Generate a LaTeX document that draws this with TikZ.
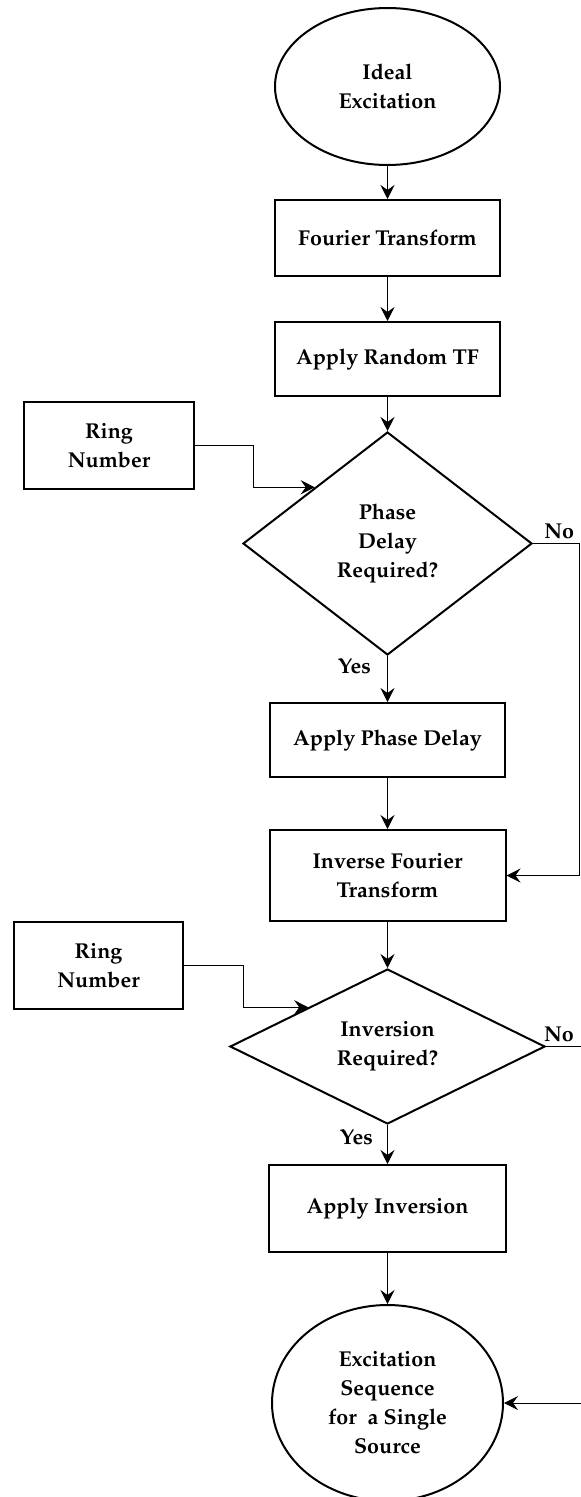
\documentclass[tikz,border=0pt]{standalone}
\usepackage[T1]{fontenc}
\usepackage{mathpazo}
\usetikzlibrary{positioning,shapes.geometric,arrows.meta}

\begin{document}
\begin{tikzpicture}[x=1pt,y=-1pt]
\tikzstyle{txt}=[font=\bfseries\fontsize{21.5}{29}\selectfont,align=center,inner sep=0pt];
\tikzstyle{term}=[txt,ellipse,draw,line width=2pt];
\tikzstyle{proc}=[txt,rectangle,draw,line width=2pt];
\tikzstyle{dec}=[txt,diamond,draw,line width=2pt];
\tikzstyle{arr}=[line width=1pt,-{Stealth[length=14pt,width=14pt,inset=5pt]}];
\tikzstyle{lbl}=[font=\bfseries\fontsize{21.5}{24}\selectfont,inner sep=4pt];

\useasboundingbox (0,0) rectangle (581,1497);

% main column
\node[term,minimum width=225pt,minimum height=157pt] (start) at (387.5,86.5) {Ideal\\Excitation};
\node[proc,minimum width=225pt,minimum height=76pt] (ft) at (387.5,238) {Fourier Transform};
\node[proc,minimum width=225pt,minimum height=74pt] (rtf) at (387.5,359) {Apply Random TF};
\node[dec,minimum width=289pt,minimum height=223pt] (dphase) at (387.5,543.5) {Phase\\Delay\\Required?};
\node[proc,minimum width=235pt,minimum height=74pt] (pdelay) at (387.5,740) {Apply Phase Delay};
\node[proc,minimum width=236pt,minimum height=91pt] (ift) at (387.5,875.5) {Inverse Fourier\\Transform};
\node[dec,minimum width=315pt,minimum height=155pt] (dinv) at (387.5,1046.5) {Inversion\\Required?};
\node[proc,minimum width=237pt,minimum height=87pt] (ainv) at (387.5,1208.5) {Apply Inversion};
\node[term,minimum width=231pt,minimum height=196pt] (stop) at (387.5,1403) {Excitation\\Sequence\\for~ a Single\\Source};

% side inputs
\node[proc,minimum width=170pt,minimum height=87pt] (ring1) at (109,445.5) {Ring\\Number};
\node[proc,minimum width=169pt,minimum height=87pt] (ring2) at (98.5,965.5) {Ring\\Number};

\draw[arr] (start) -- (ft);
\draw[arr] (ft) -- (rtf);
\draw[arr] (rtf) -- (dphase);
\draw[arr] (dphase) -- node[lbl,left=12pt,pos=0.22]{Yes} (pdelay);
\draw[arr] (pdelay) -- (ift);
\draw[arr] (ift) -- (dinv);
\draw[arr] (dinv) -- node[lbl,left=10pt,pos=0.3]{Yes} (ainv);
\draw[arr] (ainv) -- (stop);

\draw[arr] (ring1.east) -- ++(58,0) |- (dphase.north west);
\draw[arr] (ring2.east) -- ++(59,0) |- (dinv.north west);

\draw[arr] (dphase.east) -- node[lbl,above,pos=0.57]{No} ++(46,0) |- (ift.east);
\draw[arr] (dinv.east) -- node[lbl,above,pos=0.26]{No} ++(50,0) |- (stop.east);

\end{tikzpicture}
\end{document}
